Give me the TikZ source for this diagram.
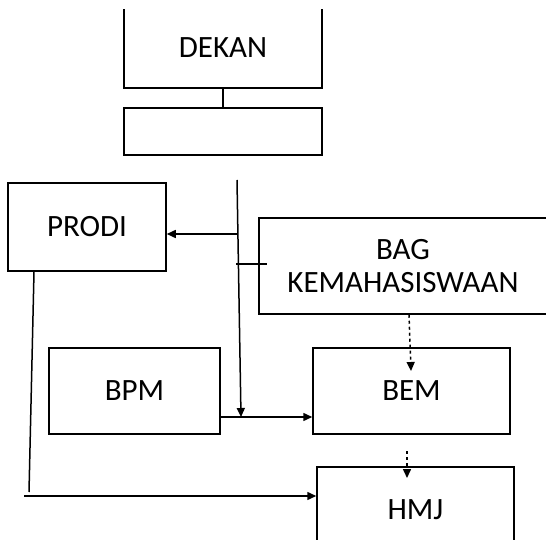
\documentclass[tikz,border=0pt]{standalone}
\usepackage{fontspec}
\setmainfont{Carlito}
\usetikzlibrary{arrows.meta}
\tikzset{
  unit/.style={draw, line width=1.5pt, minimum width=#1, inner sep=0pt, align=center},
  link/.style={line width=1.5pt},
}
\begin{document}
\begin{tikzpicture}[x=1pt, y=-1pt, >={Triangle[length=9pt,width=8pt]},
    font=\fontsize{31}{33}\selectfont]
    \useasboundingbox (0,0) rectangle (546,540);
    \clip (0,10) rectangle (546,540);
    % boxes
    \node[unit=198, minimum height=80, line width=2pt] at (223, 48) (dekan) {DEKAN};
    \node[unit=198, minimum height=47, line width=2pt] at (223, 131.5) (wakil) {};
    \node[unit=158, minimum height=88] at (87, 227) (prodi) {PRODI};
    \node[unit=288, minimum height=96] at (403, 266) (bag) {BAG\\KEMAHASISWAAN};
    \node[unit=171, minimum height=86] at (134.5, 391) (bpm) {BPM};
    \node[unit=197, minimum height=86] at (411.5, 391) (bem) {BEM};
    \node[unit=197, minimum height=86] at (415.5, 510) (hmj) {HMJ};
    % free ends
    \coordinate (vtop) at (237, 180);
    \coordinate (vjoin) at (241, 417);
    \coordinate (pjoin) at (237, 234);
    \coordinate (stub) at (236, 264);
    \coordinate (bemin) at (411, 371);
    \coordinate (hmjout) at (407, 451);
    \coordinate (hmjin) at (407, 478);
    \coordinate (pbot) at (29, 492);
    \coordinate (hjoin) at (24, 496);
    % lines
    \draw[link, line width=2pt] (dekan) -- (wakil);
    \draw[link, ->] (vtop) -- (vjoin);
    \draw[link, ->] (pjoin) -- (prodi.east |- pjoin);
    \draw[link] (stub) -- ([xshift=9pt]bag.west |- stub);
    \draw[link, dashed, ->] ([xshift=6pt]bag.south) -- (bemin);
    \draw[link, ->] (bpm.east |- vjoin) -- (bem.west |- vjoin);
    \draw[link, dashed, ->] (hmjout) -- (hmjin);
    \draw[link] ([xshift=-53pt]prodi.south) -- (pbot);
    \draw[link, ->] (hjoin) -- (hmj.west |- hjoin);
\end{tikzpicture}
\end{document}
